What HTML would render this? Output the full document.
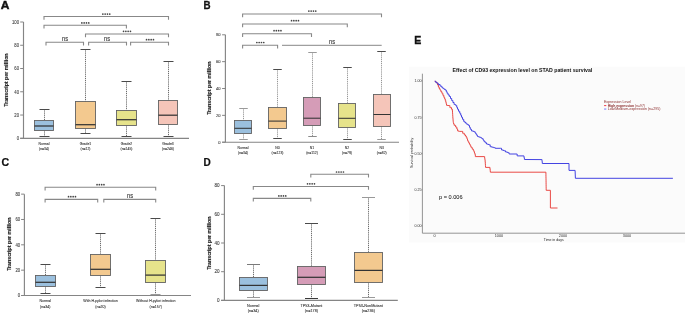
<!DOCTYPE html>
<html><head><meta charset="utf-8"><style>
html,body{margin:0;padding:0;background:#fff;}
svg{display:block;font-family:"Liberation Sans", sans-serif;will-change:transform;}
</style></head><body>
<svg width="685" height="314" viewBox="0 0 685 314">
<rect width="685" height="314" fill="#fff"/>
<text transform="translate(0.85,9.00) scale(1.05,1)" font-size="11.4" text-anchor="start" font-weight="bold" fill="#111" stroke="#111" stroke-width="0.45">A</text>
<line x1="23.5" y1="22.000000000000014" x2="23.5" y2="138.3" stroke="#858585" stroke-width="1.15" />
<line x1="20.2" y1="138.3" x2="23.5" y2="138.3" stroke="#858585" stroke-width="1" />
<text transform="translate(19.00,140.21) scale(0.8,1)" font-size="5.3" text-anchor="end" font-weight="normal" fill="#444" stroke="#444" stroke-width="0.1">0</text>
<line x1="20.2" y1="115.04" x2="23.5" y2="115.04" stroke="#858585" stroke-width="1" />
<text transform="translate(19.00,116.95) scale(0.8,1)" font-size="5.3" text-anchor="end" font-weight="normal" fill="#444" stroke="#444" stroke-width="0.1">20</text>
<line x1="20.2" y1="91.78" x2="23.5" y2="91.78" stroke="#858585" stroke-width="1" />
<text transform="translate(19.00,93.69) scale(0.8,1)" font-size="5.3" text-anchor="end" font-weight="normal" fill="#444" stroke="#444" stroke-width="0.1">40</text>
<line x1="20.2" y1="68.52000000000001" x2="23.5" y2="68.52000000000001" stroke="#858585" stroke-width="1" />
<text transform="translate(19.00,70.43) scale(0.8,1)" font-size="5.3" text-anchor="end" font-weight="normal" fill="#444" stroke="#444" stroke-width="0.1">60</text>
<line x1="20.2" y1="45.260000000000005" x2="23.5" y2="45.260000000000005" stroke="#858585" stroke-width="1" />
<text transform="translate(19.00,47.17) scale(0.8,1)" font-size="5.3" text-anchor="end" font-weight="normal" fill="#444" stroke="#444" stroke-width="0.1">80</text>
<line x1="20.2" y1="22.000000000000014" x2="23.5" y2="22.000000000000014" stroke="#858585" stroke-width="1" />
<text transform="translate(19.00,23.91) scale(0.8,1)" font-size="5.3" text-anchor="end" font-weight="normal" fill="#444" stroke="#444" stroke-width="0.1">100</text>
<line x1="20.2" y1="138.3" x2="189" y2="138.3" stroke="#858585" stroke-width="1.15" />
<text x="0" y="0" font-size="5.25" font-weight="bold" fill="#1a1a1a" stroke="#1a1a1a" stroke-width="0.12" text-anchor="middle" transform="translate(7.6,80.1) rotate(-90) scale(1,0.9)">Transcript per million</text>
<line x1="44.5" y1="109.5" x2="44.5" y2="120.5" stroke="#5a5a5a" stroke-width="0.9" stroke-dasharray="1.1 0.8"/>
<line x1="44.5" y1="130.5" x2="44.5" y2="136.5" stroke="#5a5a5a" stroke-width="0.9" stroke-dasharray="1.1 0.8"/>
<line x1="39.5" y1="109.5" x2="49.5" y2="109.5" stroke="#4a4a4a" stroke-width="1" />
<line x1="39.5" y1="136.5" x2="49.5" y2="136.5" stroke="#4a4a4a" stroke-width="1" />
<rect x="34.5" y="120.5" width="19.0" height="10.0" fill="#9bc0de" stroke="#636363" stroke-width="0.9"/>
<line x1="34.5" y1="126.0" x2="53.5" y2="126.0" stroke="#333333" stroke-width="1.25" />
<text transform="translate(44.00,144.98) scale(0.78,1)" font-size="4.4" text-anchor="middle" font-weight="normal" fill="#333" stroke="#333" stroke-width="0.1">Normal</text>
<text transform="translate(44.00,150.18) scale(0.78,1)" font-size="4.4" text-anchor="middle" font-weight="normal" fill="#333" stroke="#333" stroke-width="0.1">(n=34)</text>
<line x1="85.5" y1="49.5" x2="85.5" y2="101.5" stroke="#5a5a5a" stroke-width="0.9" stroke-dasharray="1.1 0.8"/>
<line x1="85.5" y1="128.5" x2="85.5" y2="133.5" stroke="#5a5a5a" stroke-width="0.9" stroke-dasharray="1.1 0.8"/>
<line x1="80.5" y1="49.5" x2="90.5" y2="49.5" stroke="#4a4a4a" stroke-width="1" />
<line x1="80.5" y1="133.5" x2="90.5" y2="133.5" stroke="#4a4a4a" stroke-width="1" />
<rect x="75.5" y="101.5" width="20.0" height="27.0" fill="#f3c98f" stroke="#636363" stroke-width="0.9"/>
<line x1="75.5" y1="124.7" x2="95.5" y2="124.7" stroke="#333333" stroke-width="1.25" />
<text transform="translate(85.50,144.98) scale(0.78,1)" font-size="4.4" text-anchor="middle" font-weight="normal" fill="#333" stroke="#333" stroke-width="0.1">Grade1</text>
<text transform="translate(85.50,150.18) scale(0.78,1)" font-size="4.4" text-anchor="middle" font-weight="normal" fill="#333" stroke="#333" stroke-width="0.1">(n=12)</text>
<line x1="126.5" y1="81.5" x2="126.5" y2="110.5" stroke="#5a5a5a" stroke-width="0.9" stroke-dasharray="1.1 0.8"/>
<line x1="126.5" y1="125.5" x2="126.5" y2="136.5" stroke="#5a5a5a" stroke-width="0.9" stroke-dasharray="1.1 0.8"/>
<line x1="121.5" y1="81.5" x2="131.5" y2="81.5" stroke="#4a4a4a" stroke-width="1" />
<line x1="121.5" y1="136.5" x2="131.5" y2="136.5" stroke="#4a4a4a" stroke-width="1" />
<rect x="116.5" y="110.5" width="20.0" height="15.0" fill="#e6e38b" stroke="#636363" stroke-width="0.9"/>
<line x1="116.5" y1="119.7" x2="136.5" y2="119.7" stroke="#333333" stroke-width="1.25" />
<text transform="translate(126.50,144.98) scale(0.78,1)" font-size="4.4" text-anchor="middle" font-weight="normal" fill="#333" stroke="#333" stroke-width="0.1">Grade2</text>
<text transform="translate(126.50,150.18) scale(0.78,1)" font-size="4.4" text-anchor="middle" font-weight="normal" fill="#333" stroke="#333" stroke-width="0.1">(n=145)</text>
<line x1="168.5" y1="61.5" x2="168.5" y2="100.5" stroke="#5a5a5a" stroke-width="0.9" stroke-dasharray="1.1 0.8"/>
<line x1="168.5" y1="124.5" x2="168.5" y2="136.5" stroke="#5a5a5a" stroke-width="0.9" stroke-dasharray="1.1 0.8"/>
<line x1="163.5" y1="61.5" x2="173.5" y2="61.5" stroke="#4a4a4a" stroke-width="1" />
<line x1="163.5" y1="136.5" x2="173.5" y2="136.5" stroke="#4a4a4a" stroke-width="1" />
<rect x="158.5" y="100.5" width="19.0" height="24.0" fill="#f5c5b9" stroke="#636363" stroke-width="0.9"/>
<line x1="158.5" y1="115.2" x2="177.5" y2="115.2" stroke="#333333" stroke-width="1.25" />
<text transform="translate(168.00,144.98) scale(0.78,1)" font-size="4.4" text-anchor="middle" font-weight="normal" fill="#333" stroke="#333" stroke-width="0.1">Grade3</text>
<text transform="translate(168.00,150.18) scale(0.78,1)" font-size="4.4" text-anchor="middle" font-weight="normal" fill="#333" stroke="#333" stroke-width="0.1">(n=246)</text>
<path d="M44 19.7V16.5H168.5V19.7" fill="none" stroke="#888888" stroke-width="1.1"/>
<circle cx="102.85" cy="14.1" r="0.85" fill="#444"/>
<circle cx="105.15" cy="14.1" r="0.85" fill="#444"/>
<circle cx="107.45" cy="14.1" r="0.85" fill="#444"/>
<circle cx="109.75" cy="14.1" r="0.85" fill="#444"/>
<path d="M44 28.4V25.2H126.4V28.4" fill="none" stroke="#888888" stroke-width="1.1"/>
<circle cx="81.85" cy="22.9" r="0.85" fill="#444"/>
<circle cx="84.15" cy="22.9" r="0.85" fill="#444"/>
<circle cx="86.45" cy="22.9" r="0.85" fill="#444"/>
<circle cx="88.75" cy="22.9" r="0.85" fill="#444"/>
<path d="M85.5 37.2V34.0H168.5V37.2" fill="none" stroke="#888888" stroke-width="1.1"/>
<circle cx="123.55" cy="31.3" r="0.85" fill="#444"/>
<circle cx="125.85" cy="31.3" r="0.85" fill="#444"/>
<circle cx="128.15" cy="31.3" r="0.85" fill="#444"/>
<circle cx="130.45" cy="31.3" r="0.85" fill="#444"/>
<path d="M46 45.5V42.3H83.5V45.5" fill="none" stroke="#888888" stroke-width="1.1"/>
<text transform="translate(65.10,40.90) scale(0.8,1)" font-size="7.2" text-anchor="middle" font-weight="normal" fill="#333" stroke="#333" stroke-width="0.12">ns</text>
<path d="M88.6 45.5V42.3H126.5V45.5" fill="none" stroke="#888888" stroke-width="1.1"/>
<text transform="translate(107.00,40.90) scale(0.8,1)" font-size="7.2" text-anchor="middle" font-weight="normal" fill="#333" stroke="#333" stroke-width="0.12">ns</text>
<path d="M130.6 45.5V42.3H168.5V45.5" fill="none" stroke="#888888" stroke-width="1.1"/>
<circle cx="146.55" cy="39.7" r="0.85" fill="#444"/>
<circle cx="148.85" cy="39.7" r="0.85" fill="#444"/>
<circle cx="151.15" cy="39.7" r="0.85" fill="#444"/>
<circle cx="153.45" cy="39.7" r="0.85" fill="#444"/>
<text transform="translate(203.40,8.70) scale(0.86,1)" font-size="11.4" text-anchor="start" font-weight="bold" fill="#111" stroke="#111" stroke-width="0.3">B</text>
<line x1="225.4" y1="34.79999999999998" x2="225.4" y2="142.2" stroke="#858585" stroke-width="1.15" />
<line x1="222.1" y1="142.2" x2="225.4" y2="142.2" stroke="#858585" stroke-width="1" />
<text transform="translate(220.60,143.75) scale(0.95,1)" font-size="4.3" text-anchor="end" font-weight="normal" fill="#444" stroke="#444" stroke-width="0.1">0</text>
<line x1="222.1" y1="115.35" x2="225.4" y2="115.35" stroke="#858585" stroke-width="1" />
<text transform="translate(220.60,116.90) scale(0.95,1)" font-size="4.3" text-anchor="end" font-weight="normal" fill="#444" stroke="#444" stroke-width="0.1">20</text>
<line x1="222.1" y1="88.49999999999999" x2="225.4" y2="88.49999999999999" stroke="#858585" stroke-width="1" />
<text transform="translate(220.60,90.05) scale(0.95,1)" font-size="4.3" text-anchor="end" font-weight="normal" fill="#444" stroke="#444" stroke-width="0.1">40</text>
<line x1="222.1" y1="61.64999999999999" x2="225.4" y2="61.64999999999999" stroke="#858585" stroke-width="1" />
<text transform="translate(220.60,63.20) scale(0.95,1)" font-size="4.3" text-anchor="end" font-weight="normal" fill="#444" stroke="#444" stroke-width="0.1">60</text>
<line x1="222.1" y1="34.79999999999998" x2="225.4" y2="34.79999999999998" stroke="#858585" stroke-width="1" />
<text transform="translate(220.60,36.35) scale(0.95,1)" font-size="4.3" text-anchor="end" font-weight="normal" fill="#444" stroke="#444" stroke-width="0.1">80</text>
<line x1="222.1" y1="142.2" x2="399" y2="142.2" stroke="#858585" stroke-width="1.15" />
<text x="0" y="0" font-size="5.25" font-weight="bold" fill="#1a1a1a" stroke="#1a1a1a" stroke-width="0.12" text-anchor="middle" transform="translate(211.3,88.2) rotate(-90) scale(1,0.9)">Transcript per million</text>
<line x1="243.5" y1="108.5" x2="243.5" y2="120.5" stroke="#8a8a8a" stroke-width="0.9" stroke-dasharray="1.1 0.8"/>
<line x1="243.5" y1="133.5" x2="243.5" y2="139.5" stroke="#8a8a8a" stroke-width="0.9" stroke-dasharray="1.1 0.8"/>
<line x1="239.25" y1="108.5" x2="247.75" y2="108.5" stroke="#9a9a9a" stroke-width="1" />
<line x1="239.25" y1="139.5" x2="247.75" y2="139.5" stroke="#9a9a9a" stroke-width="1" />
<rect x="234.5" y="120.5" width="17.0" height="13.0" fill="#9bc0de" stroke="#636363" stroke-width="0.9"/>
<line x1="234.5" y1="128.3" x2="251.5" y2="128.3" stroke="#333333" stroke-width="1.05" />
<text transform="translate(243.00,149.28) scale(0.78,1)" font-size="4.4" text-anchor="middle" font-weight="normal" fill="#333" stroke="#333" stroke-width="0.1">Normal</text>
<text transform="translate(243.00,154.48) scale(0.78,1)" font-size="4.4" text-anchor="middle" font-weight="normal" fill="#333" stroke="#333" stroke-width="0.1">(n=34)</text>
<line x1="277.5" y1="69.5" x2="277.5" y2="107.5" stroke="#8a8a8a" stroke-width="0.9" stroke-dasharray="1.1 0.8"/>
<line x1="277.5" y1="128.5" x2="277.5" y2="138.5" stroke="#8a8a8a" stroke-width="0.9" stroke-dasharray="1.1 0.8"/>
<line x1="273.25" y1="69.5" x2="281.75" y2="69.5" stroke="#4a4a4a" stroke-width="1" />
<line x1="273.25" y1="138.5" x2="281.75" y2="138.5" stroke="#4a4a4a" stroke-width="1" />
<rect x="268.5" y="107.5" width="18.0" height="21.0" fill="#f3c98f" stroke="#636363" stroke-width="0.9"/>
<line x1="268.5" y1="121.1" x2="286.5" y2="121.1" stroke="#333333" stroke-width="1.05" />
<text transform="translate(277.50,149.28) scale(0.78,1)" font-size="4.4" text-anchor="middle" font-weight="normal" fill="#333" stroke="#333" stroke-width="0.1">N0</text>
<text transform="translate(277.50,154.48) scale(0.78,1)" font-size="4.4" text-anchor="middle" font-weight="normal" fill="#333" stroke="#333" stroke-width="0.1">(n=123)</text>
<line x1="312.5" y1="52.5" x2="312.5" y2="97.5" stroke="#8a8a8a" stroke-width="0.9" stroke-dasharray="1.1 0.8"/>
<line x1="312.5" y1="125.5" x2="312.5" y2="136.5" stroke="#8a8a8a" stroke-width="0.9" stroke-dasharray="1.1 0.8"/>
<line x1="308.25" y1="52.5" x2="316.75" y2="52.5" stroke="#9a9a9a" stroke-width="1" />
<line x1="308.25" y1="136.5" x2="316.75" y2="136.5" stroke="#8a8a8a" stroke-width="1" />
<rect x="303.5" y="97.5" width="17.0" height="28.0" fill="#d59cb7" stroke="#636363" stroke-width="0.9"/>
<line x1="303.5" y1="118.2" x2="320.5" y2="118.2" stroke="#333333" stroke-width="1.05" />
<text transform="translate(312.00,149.28) scale(0.78,1)" font-size="4.4" text-anchor="middle" font-weight="normal" fill="#333" stroke="#333" stroke-width="0.1">N1</text>
<text transform="translate(312.00,154.48) scale(0.78,1)" font-size="4.4" text-anchor="middle" font-weight="normal" fill="#333" stroke="#333" stroke-width="0.1">(n=112)</text>
<line x1="347.5" y1="67.5" x2="347.5" y2="103.5" stroke="#8a8a8a" stroke-width="0.9" stroke-dasharray="1.1 0.8"/>
<line x1="347.5" y1="127.5" x2="347.5" y2="139.5" stroke="#8a8a8a" stroke-width="0.9" stroke-dasharray="1.1 0.8"/>
<line x1="343.25" y1="67.5" x2="351.75" y2="67.5" stroke="#4a4a4a" stroke-width="1" />
<line x1="343.25" y1="139.5" x2="351.75" y2="139.5" stroke="#4a4a4a" stroke-width="1" />
<rect x="338.5" y="103.5" width="17.0" height="24.0" fill="#e6e38b" stroke="#636363" stroke-width="0.9"/>
<line x1="338.5" y1="118.3" x2="355.5" y2="118.3" stroke="#333333" stroke-width="1.05" />
<text transform="translate(347.00,149.28) scale(0.78,1)" font-size="4.4" text-anchor="middle" font-weight="normal" fill="#333" stroke="#333" stroke-width="0.1">N2</text>
<text transform="translate(347.00,154.48) scale(0.78,1)" font-size="4.4" text-anchor="middle" font-weight="normal" fill="#333" stroke="#333" stroke-width="0.1">(n=79)</text>
<line x1="381.5" y1="51.5" x2="381.5" y2="94.5" stroke="#8a8a8a" stroke-width="0.9" stroke-dasharray="1.1 0.8"/>
<line x1="381.5" y1="126.5" x2="381.5" y2="139.5" stroke="#8a8a8a" stroke-width="0.9" stroke-dasharray="1.1 0.8"/>
<line x1="377.25" y1="51.5" x2="385.75" y2="51.5" stroke="#4a4a4a" stroke-width="1" />
<line x1="377.25" y1="139.5" x2="385.75" y2="139.5" stroke="#9a9a9a" stroke-width="1" />
<rect x="373.5" y="94.5" width="17.0" height="32.0" fill="#f5c5b9" stroke="#636363" stroke-width="0.9"/>
<line x1="373.5" y1="114.5" x2="390.5" y2="114.5" stroke="#333333" stroke-width="1.05" />
<text transform="translate(381.70,149.28) scale(0.78,1)" font-size="4.4" text-anchor="middle" font-weight="normal" fill="#333" stroke="#333" stroke-width="0.1">N3</text>
<text transform="translate(381.70,154.48) scale(0.78,1)" font-size="4.4" text-anchor="middle" font-weight="normal" fill="#333" stroke="#333" stroke-width="0.1">(n=82)</text>
<path d="M242.6 17.2V14.0H381.5V17.2" fill="none" stroke="#888888" stroke-width="1.1"/>
<circle cx="308.85" cy="11.1" r="0.85" fill="#444"/>
<circle cx="311.15" cy="11.1" r="0.85" fill="#444"/>
<circle cx="313.45" cy="11.1" r="0.85" fill="#444"/>
<circle cx="315.75" cy="11.1" r="0.85" fill="#444"/>
<path d="M242.6 27.2V24.0H347.3V27.2" fill="none" stroke="#888888" stroke-width="1.1"/>
<circle cx="291.55" cy="20.7" r="0.85" fill="#444"/>
<circle cx="293.85" cy="20.7" r="0.85" fill="#444"/>
<circle cx="296.15" cy="20.7" r="0.85" fill="#444"/>
<circle cx="298.45" cy="20.7" r="0.85" fill="#444"/>
<path d="M242.6 37.0V33.8H311.5V37.0" fill="none" stroke="#888888" stroke-width="1.1"/>
<circle cx="274.05" cy="30.7" r="0.85" fill="#444"/>
<circle cx="276.35" cy="30.7" r="0.85" fill="#444"/>
<circle cx="278.65" cy="30.7" r="0.85" fill="#444"/>
<circle cx="280.95" cy="30.7" r="0.85" fill="#444"/>
<path d="M242.6 48.5V45.3H277.6V48.5" fill="none" stroke="#888888" stroke-width="1.1"/>
<circle cx="256.85" cy="42.5" r="0.85" fill="#444"/>
<circle cx="259.15" cy="42.5" r="0.85" fill="#444"/>
<circle cx="261.45" cy="42.5" r="0.85" fill="#444"/>
<circle cx="263.75" cy="42.5" r="0.85" fill="#444"/>
<line x1="282" y1="45.3" x2="381.7" y2="45.3" stroke="#888888" stroke-width="1" />
<text transform="translate(332.00,44.30) scale(0.8,1)" font-size="7.2" text-anchor="middle" font-weight="normal" fill="#333" stroke="#333" stroke-width="0.12">ns</text>
<text transform="translate(1.40,166.00) scale(0.93,1)" font-size="11.4" text-anchor="start" font-weight="bold" fill="#111" stroke="#111" stroke-width="0.25">C</text>
<line x1="24.4" y1="194.14000000000001" x2="24.4" y2="295.5" stroke="#858585" stroke-width="1.15" />
<line x1="21.099999999999998" y1="295.5" x2="24.4" y2="295.5" stroke="#858585" stroke-width="1" />
<text transform="translate(20.10,297.30) scale(0.85,1)" font-size="5.0" text-anchor="end" font-weight="normal" fill="#444" stroke="#444" stroke-width="0.1">0</text>
<line x1="21.099999999999998" y1="270.16" x2="24.4" y2="270.16" stroke="#858585" stroke-width="1" />
<text transform="translate(20.10,271.96) scale(0.85,1)" font-size="5.0" text-anchor="end" font-weight="normal" fill="#444" stroke="#444" stroke-width="0.1">20</text>
<line x1="21.099999999999998" y1="244.82" x2="24.4" y2="244.82" stroke="#858585" stroke-width="1" />
<text transform="translate(20.10,246.62) scale(0.85,1)" font-size="5.0" text-anchor="end" font-weight="normal" fill="#444" stroke="#444" stroke-width="0.1">40</text>
<line x1="21.099999999999998" y1="219.48000000000002" x2="24.4" y2="219.48000000000002" stroke="#858585" stroke-width="1" />
<text transform="translate(20.10,221.28) scale(0.85,1)" font-size="5.0" text-anchor="end" font-weight="normal" fill="#444" stroke="#444" stroke-width="0.1">60</text>
<line x1="21.099999999999998" y1="194.14000000000001" x2="24.4" y2="194.14000000000001" stroke="#858585" stroke-width="1" />
<text transform="translate(20.10,195.94) scale(0.85,1)" font-size="5.0" text-anchor="end" font-weight="normal" fill="#444" stroke="#444" stroke-width="0.1">80</text>
<line x1="21.099999999999998" y1="295.5" x2="191" y2="295.5" stroke="#858585" stroke-width="1.15" />
<text x="0" y="0" font-size="5.25" font-weight="bold" fill="#1a1a1a" stroke="#1a1a1a" stroke-width="0.12" text-anchor="middle" transform="translate(10.6,244.2) rotate(-90) scale(1,0.9)">Transcript per million</text>
<line x1="45.5" y1="264.5" x2="45.5" y2="275.5" stroke="#5a5a5a" stroke-width="0.9" stroke-dasharray="1.1 0.8"/>
<line x1="45.5" y1="286.5" x2="45.5" y2="293.5" stroke="#5a5a5a" stroke-width="0.9" stroke-dasharray="1.1 0.8"/>
<line x1="40.5" y1="264.5" x2="50.5" y2="264.5" stroke="#4a4a4a" stroke-width="1" />
<line x1="40.5" y1="293.5" x2="50.5" y2="293.5" stroke="#4a4a4a" stroke-width="1" />
<rect x="35.5" y="275.5" width="20.0" height="11.0" fill="#9bc0de" stroke="#636363" stroke-width="0.9"/>
<line x1="35.5" y1="282.3" x2="55.5" y2="282.3" stroke="#333333" stroke-width="1.25" />
<text transform="translate(45.20,302.48) scale(0.81,1)" font-size="4.4" text-anchor="middle" font-weight="normal" fill="#333" stroke="#333" stroke-width="0.1">Normal</text>
<text transform="translate(45.20,307.78) scale(0.81,1)" font-size="4.4" text-anchor="middle" font-weight="normal" fill="#333" stroke="#333" stroke-width="0.1">(n=34)</text>
<line x1="100.5" y1="233.5" x2="100.5" y2="254.5" stroke="#5a5a5a" stroke-width="0.9" stroke-dasharray="1.1 0.8"/>
<line x1="100.5" y1="275.5" x2="100.5" y2="287.5" stroke="#5a5a5a" stroke-width="0.9" stroke-dasharray="1.1 0.8"/>
<line x1="95.5" y1="233.5" x2="105.5" y2="233.5" stroke="#4a4a4a" stroke-width="1" />
<line x1="95.5" y1="287.5" x2="105.5" y2="287.5" stroke="#4a4a4a" stroke-width="1" />
<rect x="90.5" y="254.5" width="20.0" height="21.0" fill="#f3c98f" stroke="#636363" stroke-width="0.9"/>
<line x1="90.5" y1="269.3" x2="110.5" y2="269.3" stroke="#333333" stroke-width="1.25" />
<text transform="translate(100.50,302.48) scale(0.81,1)" font-size="4.4" text-anchor="middle" font-weight="normal" fill="#333" stroke="#333" stroke-width="0.1">With H.pylori infection</text>
<text transform="translate(100.50,307.78) scale(0.81,1)" font-size="4.4" text-anchor="middle" font-weight="normal" fill="#333" stroke="#333" stroke-width="0.1">(n=20)</text>
<line x1="155.5" y1="218.5" x2="155.5" y2="260.5" stroke="#5a5a5a" stroke-width="0.9" stroke-dasharray="1.1 0.8"/>
<line x1="155.5" y1="282.5" x2="155.5" y2="294.5" stroke="#5a5a5a" stroke-width="0.9" stroke-dasharray="1.1 0.8"/>
<line x1="150.5" y1="218.5" x2="160.5" y2="218.5" stroke="#4a4a4a" stroke-width="1" />
<line x1="150.5" y1="294.5" x2="160.5" y2="294.5" stroke="#9a9a9a" stroke-width="1" />
<rect x="145.5" y="260.5" width="20.0" height="22.0" fill="#e6e38b" stroke="#636363" stroke-width="0.9"/>
<line x1="145.5" y1="275.1" x2="165.5" y2="275.1" stroke="#333333" stroke-width="1.25" />
<text transform="translate(155.80,302.48) scale(0.81,1)" font-size="4.4" text-anchor="middle" font-weight="normal" fill="#333" stroke="#333" stroke-width="0.1">Without H.pylori infection</text>
<text transform="translate(155.80,307.78) scale(0.81,1)" font-size="4.4" text-anchor="middle" font-weight="normal" fill="#333" stroke="#333" stroke-width="0.1">(n=157)</text>
<path d="M45.1 190.5V187.3H155.7V190.5" fill="none" stroke="#888888" stroke-width="1.1"/>
<circle cx="97.05" cy="184.7" r="0.85" fill="#444"/>
<circle cx="99.35" cy="184.7" r="0.85" fill="#444"/>
<circle cx="101.65" cy="184.7" r="0.85" fill="#444"/>
<circle cx="103.95" cy="184.7" r="0.85" fill="#444"/>
<path d="M45.1 202.6V199.4H97.7V202.6" fill="none" stroke="#888888" stroke-width="1.1"/>
<circle cx="68.55" cy="196.7" r="0.85" fill="#444"/>
<circle cx="70.85" cy="196.7" r="0.85" fill="#444"/>
<circle cx="73.15" cy="196.7" r="0.85" fill="#444"/>
<circle cx="75.45" cy="196.7" r="0.85" fill="#444"/>
<path d="M103.8 202.6V199.4H155.7V202.6" fill="none" stroke="#888888" stroke-width="1.1"/>
<text transform="translate(130.00,197.90) scale(0.8,1)" font-size="7.2" text-anchor="middle" font-weight="normal" fill="#333" stroke="#333" stroke-width="0.12">ns</text>
<text transform="translate(203.60,165.80) scale(0.88,1)" font-size="11.4" text-anchor="start" font-weight="bold" fill="#111" stroke="#111" stroke-width="0.25">D</text>
<line x1="224.4" y1="185.59999999999997" x2="224.4" y2="300.4" stroke="#858585" stroke-width="1.15" />
<line x1="221.1" y1="300.4" x2="224.4" y2="300.4" stroke="#858585" stroke-width="1" />
<text x="219.6" y="302.056" font-size="4.6" text-anchor="end" font-weight="normal" fill="#444" stroke="#444" stroke-width="0.1">0</text>
<line x1="221.1" y1="271.7" x2="224.4" y2="271.7" stroke="#858585" stroke-width="1" />
<text x="219.6" y="273.356" font-size="4.6" text-anchor="end" font-weight="normal" fill="#444" stroke="#444" stroke-width="0.1">20</text>
<line x1="221.1" y1="242.99999999999997" x2="224.4" y2="242.99999999999997" stroke="#858585" stroke-width="1" />
<text x="219.6" y="244.65599999999998" font-size="4.6" text-anchor="end" font-weight="normal" fill="#444" stroke="#444" stroke-width="0.1">40</text>
<line x1="221.1" y1="214.29999999999995" x2="224.4" y2="214.29999999999995" stroke="#858585" stroke-width="1" />
<text x="219.6" y="215.95599999999996" font-size="4.6" text-anchor="end" font-weight="normal" fill="#444" stroke="#444" stroke-width="0.1">60</text>
<line x1="221.1" y1="185.59999999999997" x2="224.4" y2="185.59999999999997" stroke="#858585" stroke-width="1" />
<text x="219.6" y="187.25599999999997" font-size="4.6" text-anchor="end" font-weight="normal" fill="#444" stroke="#444" stroke-width="0.1">80</text>
<line x1="221.1" y1="300.4" x2="397.8" y2="300.4" stroke="#858585" stroke-width="1.15" />
<text x="0" y="0" font-size="5.25" font-weight="bold" fill="#1a1a1a" stroke="#1a1a1a" stroke-width="0.12" text-anchor="middle" transform="translate(210.8,243.2) rotate(-90) scale(1,0.9)">Transcript per million</text>
<line x1="253.5" y1="264.5" x2="253.5" y2="277.5" stroke="#5a5a5a" stroke-width="0.9" stroke-dasharray="1.1 0.8"/>
<line x1="253.5" y1="290.5" x2="253.5" y2="297.5" stroke="#5a5a5a" stroke-width="0.9" stroke-dasharray="1.1 0.8"/>
<line x1="247.0" y1="264.5" x2="260.0" y2="264.5" stroke="#7a7a7a" stroke-width="1" />
<line x1="247.0" y1="297.5" x2="260.0" y2="297.5" stroke="#9a9a9a" stroke-width="1" />
<rect x="239.5" y="277.5" width="28.0" height="13.0" fill="#9bc0de" stroke="#636363" stroke-width="0.9"/>
<line x1="239.5" y1="285.4" x2="267.5" y2="285.4" stroke="#333333" stroke-width="1.25" />
<text transform="translate(253.20,306.88) scale(0.87,1)" font-size="4.4" text-anchor="middle" font-weight="normal" fill="#333" stroke="#333" stroke-width="0.1">Normal</text>
<text transform="translate(253.20,311.88) scale(0.87,1)" font-size="4.4" text-anchor="middle" font-weight="normal" fill="#333" stroke="#333" stroke-width="0.1">(n=34)</text>
<line x1="311.5" y1="223.5" x2="311.5" y2="266.5" stroke="#5a5a5a" stroke-width="0.9" stroke-dasharray="1.1 0.8"/>
<line x1="311.5" y1="284.5" x2="311.5" y2="298.5" stroke="#5a5a5a" stroke-width="0.9" stroke-dasharray="1.1 0.8"/>
<line x1="305.0" y1="223.5" x2="318.0" y2="223.5" stroke="#4a4a4a" stroke-width="1" />
<line x1="305.0" y1="298.5" x2="318.0" y2="298.5" stroke="#3a3a3a" stroke-width="1" />
<rect x="297.5" y="266.5" width="28.0" height="18.0" fill="#d59cb7" stroke="#636363" stroke-width="0.9"/>
<line x1="297.5" y1="277.3" x2="325.5" y2="277.3" stroke="#333333" stroke-width="1.25" />
<text transform="translate(311.40,306.88) scale(0.87,1)" font-size="4.4" text-anchor="middle" font-weight="normal" fill="#333" stroke="#333" stroke-width="0.1">TP53-Mutant</text>
<text transform="translate(311.40,311.88) scale(0.87,1)" font-size="4.4" text-anchor="middle" font-weight="normal" fill="#333" stroke="#333" stroke-width="0.1">(n=178)</text>
<line x1="368.5" y1="197.5" x2="368.5" y2="252.5" stroke="#5a5a5a" stroke-width="0.9" stroke-dasharray="1.1 0.8"/>
<line x1="368.5" y1="282.5" x2="368.5" y2="297.5" stroke="#5a5a5a" stroke-width="0.9" stroke-dasharray="1.1 0.8"/>
<line x1="362.0" y1="197.5" x2="375.0" y2="197.5" stroke="#999999" stroke-width="1" />
<line x1="362.0" y1="297.5" x2="375.0" y2="297.5" stroke="#9a9a9a" stroke-width="1" />
<rect x="354.5" y="252.5" width="28.0" height="30.0" fill="#f3c98f" stroke="#636363" stroke-width="0.9"/>
<line x1="354.5" y1="270.4" x2="382.5" y2="270.4" stroke="#333333" stroke-width="1.25" />
<text transform="translate(368.30,306.88) scale(0.87,1)" font-size="4.4" text-anchor="middle" font-weight="normal" fill="#333" stroke="#333" stroke-width="0.1">TP53-NonMutant</text>
<text transform="translate(368.30,311.88) scale(0.87,1)" font-size="4.4" text-anchor="middle" font-weight="normal" fill="#333" stroke="#333" stroke-width="0.1">(n=236)</text>
<path d="M310.8 177.5V174.3H368.5V177.5" fill="none" stroke="#888888" stroke-width="1.1"/>
<circle cx="336.55" cy="172" r="0.85" fill="#444"/>
<circle cx="338.85" cy="172" r="0.85" fill="#444"/>
<circle cx="341.15" cy="172" r="0.85" fill="#444"/>
<circle cx="343.45" cy="172" r="0.85" fill="#444"/>
<path d="M253.3 189.7V186.5H368.5V189.7" fill="none" stroke="#888888" stroke-width="1.1"/>
<circle cx="307.55" cy="183.8" r="0.85" fill="#444"/>
<circle cx="309.85" cy="183.8" r="0.85" fill="#444"/>
<circle cx="312.15" cy="183.8" r="0.85" fill="#444"/>
<circle cx="314.45" cy="183.8" r="0.85" fill="#444"/>
<path d="M253.3 201.6V198.4H310.8V201.6" fill="none" stroke="#888888" stroke-width="1.1"/>
<circle cx="278.85" cy="195.9" r="0.85" fill="#444"/>
<circle cx="281.15" cy="195.9" r="0.85" fill="#444"/>
<circle cx="283.45" cy="195.9" r="0.85" fill="#444"/>
<circle cx="285.75" cy="195.9" r="0.85" fill="#444"/>
<text transform="translate(414.30,44.30) scale(0.96,1)" font-size="11" text-anchor="start" font-weight="bold" fill="#111" stroke="#111" stroke-width="0.35">E</text>
<rect x="409" y="66.8" width="276" height="175.7" fill="#fbfbfb"/>
<text x="452.6" y="71.9" font-size="5.2" text-anchor="start" font-weight="bold" fill="#111" textLength="139.7" lengthAdjust="spacingAndGlyphs">Effect of CD93 expression level on STAD patient survival</text>
<line x1="422.4" y1="73.7" x2="422.4" y2="233.2" stroke="#888" stroke-width="0.9" />
<line x1="422.4" y1="233.2" x2="685" y2="233.2" stroke="#888" stroke-width="0.9" />
<text x="421.6" y="82.3" font-size="3.8" text-anchor="end" font-weight="normal" fill="#333" textLength="7.0" lengthAdjust="spacingAndGlyphs">1.00</text>
<line x1="421.2" y1="81.0" x2="422.4" y2="81.0" stroke="#888" stroke-width="0.6" />
<text x="421.6" y="118.5" font-size="3.8" text-anchor="end" font-weight="normal" fill="#333" textLength="7.0" lengthAdjust="spacingAndGlyphs">0.75</text>
<line x1="421.2" y1="117.2" x2="422.4" y2="117.2" stroke="#888" stroke-width="0.6" />
<text x="421.6" y="154.8" font-size="3.8" text-anchor="end" font-weight="normal" fill="#333" textLength="7.0" lengthAdjust="spacingAndGlyphs">0.50</text>
<line x1="421.2" y1="153.5" x2="422.4" y2="153.5" stroke="#888" stroke-width="0.6" />
<text x="421.6" y="191.0" font-size="3.8" text-anchor="end" font-weight="normal" fill="#333" textLength="7.0" lengthAdjust="spacingAndGlyphs">0.25</text>
<line x1="421.2" y1="189.7" x2="422.4" y2="189.7" stroke="#888" stroke-width="0.6" />
<text x="421.6" y="227.20000000000002" font-size="3.8" text-anchor="end" font-weight="normal" fill="#333" textLength="7.0" lengthAdjust="spacingAndGlyphs">0.00</text>
<line x1="421.2" y1="225.9" x2="422.4" y2="225.9" stroke="#888" stroke-width="0.6" />
<text x="434.6" y="236.9" font-size="3.8" text-anchor="middle" font-weight="normal" fill="#333" >0</text>
<text x="498.9" y="236.9" font-size="3.8" text-anchor="middle" font-weight="normal" fill="#333" >1000</text>
<text x="563" y="236.9" font-size="3.8" text-anchor="middle" font-weight="normal" fill="#333" >2000</text>
<text x="627" y="236.9" font-size="3.8" text-anchor="middle" font-weight="normal" fill="#333" >3000</text>
<text x="553.8" y="241" font-size="3.55" text-anchor="middle" font-weight="normal" fill="#222" >Time in days</text>
<text x="0" y="0" font-size="3.6" fill="#222" text-anchor="middle" transform="translate(413.2,152.9) rotate(-90)">Survival probability</text>
<text x="439.1" y="199.2" font-size="5.6" text-anchor="start" font-weight="normal" fill="#222" stroke="#222" stroke-width="0.05">p = 0.006</text>
<text x="603.9" y="102.7" font-size="3.4" text-anchor="start" font-weight="normal" fill="#8b2c2c" textLength="27.1" lengthAdjust="spacingAndGlyphs">Expression Level</text>
<rect x="604.1" y="105.2" width="2.2" height="0.9" fill="#e23"/>
<rect x="604.1" y="108.6" width="2.2" height="0.9" fill="#66f"/>
<text x="607.7" y="106.9" font-size="3.4" text-anchor="start" font-weight="normal" fill="#8b2c2c" textLength="37.3" lengthAdjust="spacingAndGlyphs"><tspan font-weight="bold">High expression</tspan> (n=97)</text>
<text x="607.7" y="110.4" font-size="3.4" text-anchor="start" font-weight="normal" fill="#8b2c2c" textLength="52.8" lengthAdjust="spacingAndGlyphs">Low/Medium-expression (n=295)</text>
<polyline points="434.8,81.1 435.4,81.1 435.4,82.05 436.6,82.05 436.6,83.0 437.2,83 437.6,83.0 437.6,85.0 438.4,85.0 438.4,87.0 438.8,87 439.2,87.0 439.2,88.55 440.0,88.55 440.0,90.1 440.4,90.1 440.9,90.1 440.9,91.7 441.9,91.7 441.9,93.3 442.4,93.3 442.88,93.3 442.88,95.3 443.83,95.3 443.83,97.3 444.3,97.3 444.62,97.3 444.62,98.9 445.28,98.9 445.28,100.5 445.6,100.5 445.78,100.5 445.78,102.1 446.15,102.1 446.15,103.7 446.52,103.7 446.52,105.3 446.7,105.3 449.1,105.6 449.9,105.6 449.9,107.6 450.7,107.6 451.5,107.6 451.5,109.2 452.3,109.2 452.36,109.2 452.36,111.0 452.49,111.0 452.49,112.8 452.61,112.8 452.61,114.6 452.74,114.6 452.74,116.4 452.8,116.4 452.87,116.4 452.87,118.1 453.0,118.1 453.0,119.8 453.13,119.8 453.13,121.5 453.2,121.5 453.3,121.5 453.3,122.65 453.5,122.65 453.5,123.8 453.6,123.8 454.2,123.8 454.2,125.4 454.8,125.4 455.6,125.4 455.6,127.0 456.4,127 456.8,127.0 456.8,128.95 457.6,128.95 457.6,130.9 458,130.9 458.8,130.9 458.8,131.4 459.6,131.4 461.9,131.4 462.7,131.4 462.7,133.3 463.5,133.3 464.3,133.3 464.3,134.9 465.1,134.9 465.5,134.9 465.5,136.1 466.3,136.1 466.3,137.3 466.7,137.3 466.98,137.3 466.98,138.9 467.52,138.9 467.52,140.5 467.8,140.5 468.12,140.5 468.12,141.7 468.78,141.7 468.78,142.9 469.1,142.9 469.43,142.9 469.43,144.1 470.07,144.1 470.07,145.3 470.4,145.3 470.67,145.3 470.67,146.45 471.23,146.45 471.23,147.6 471.5,147.6 472.3,147.6 472.3,149.2 473.1,149.2 473.38,149.2 473.38,150.4 473.92,150.4 473.92,151.6 474.2,151.6 474.45,151.6 474.45,153.05 474.95,153.05 474.95,154.5 475.2,154.5 475.35,154.5 475.35,156.6 475.5,156.6 484.5,156.6 484.65,156.6 484.65,158.4 484.95,158.4 484.95,160.2 485.1,160.2 485.16,160.2 485.16,162.0 485.29,162.0 485.29,163.8 485.41,163.8 485.41,165.6 485.54,165.6 485.54,167.4 485.6,167.4 489.9,167.4 489.98,167.4 489.98,169.0 490.15,169.0 490.15,170.6 490.32,170.6 490.32,172.2 490.4,172.2 545.9,172.2 545.92,172.2 545.92,174.21 545.95,174.21 545.95,176.22 545.98,176.22 545.98,178.23 546.02,178.23 546.02,180.24 546.05,180.24 546.05,182.26 546.08,182.26 546.08,184.27 546.12,184.27 546.12,186.28 546.15,186.28 546.15,188.29 546.18,188.29 546.18,190.3 546.2,190.3 550.4,190.3 550.4,208 557.5,208" fill="none" stroke="#e8403c" stroke-width="0.95" stroke-linejoin="miter"/>
<polyline points="434.8,81.1 435.4,81.1 435.4,82.05 436.6,82.05 436.6,83.0 437.2,83 438.17,83.0 438.17,84.55 440.12,84.55 440.12,86.1 441.1,86.1 441.7,86.1 441.7,87.3 442.9,87.3 442.9,88.5 443.5,88.5 444.1,88.5 444.1,89.3 445.3,89.3 445.3,90.1 445.9,90.1 446.3,90.1 446.3,91.7 447.1,91.7 447.1,93.3 447.5,93.3 448.1,93.3 448.1,94.9 449.3,94.9 449.3,96.5 449.9,96.5 450.5,96.5 450.5,98.5 451.7,98.5 451.7,100.5 452.3,100.5 452.9,100.5 452.9,102.5 454.1,102.5 454.1,104.5 454.7,104.5 455.5,104.5 455.5,105.3 456.3,105.3 456.7,105.3 456.7,107.25 457.5,107.25 457.5,109.2 457.9,109.2 458.5,109.2 458.5,111.2 459.7,111.2 459.7,113.2 460.3,113.2 460.7,113.2 460.7,115.2 461.5,115.2 461.5,117.2 461.9,117.2 462.5,117.2 462.5,119.3 463.7,119.3 463.7,121.4 464.3,121.4 464.9,121.4 464.9,122.6 466.1,122.6 466.1,123.8 466.7,123.8 467.3,123.8 467.3,124.6 468.5,124.6 468.5,125.4 469.1,125.4 469.5,125.4 469.5,127.35 470.3,127.35 470.3,129.3 470.7,129.3 471.5,129.3 471.5,130.9 472.3,130.9 472.9,130.9 472.9,131.3 474.1,131.3 474.1,131.7 474.7,131.7 475.1,131.7 475.1,132.9 475.9,132.9 475.9,134.1 476.3,134.1 476.7,134.1 476.7,135.3 477.5,135.3 477.5,136.5 477.9,136.5 478.5,136.5 478.5,136.9 479.7,136.9 479.7,137.3 480.3,137.3 480.88,137.3 480.88,137.95 482.03,137.95 482.03,138.6 482.6,138.6 483.08,138.6 483.08,140.05 484.02,140.05 484.02,141.5 484.5,141.5 485.18,141.5 485.18,142.75 486.52,142.75 486.52,144.0 487.2,144 487.8,144.0 487.8,144.4 489.0,144.4 489.0,144.8 489.6,144.8 490.2,144.8 490.2,146.7 490.8,146.7 491.68,146.7 491.68,147.15 493.43,147.15 493.43,147.6 494.3,147.6 495.1,147.6 495.1,148.3 495.9,148.3 500.7,148.3 501.5,148.3 501.5,149.9 502.3,149.9 502.9,149.9 502.9,150.35 504.1,150.35 504.1,150.8 504.7,150.8 505.5,150.8 505.5,151.9 506.3,151.9 506.9,151.9 506.9,152.3 508.1,152.3 508.1,152.7 508.7,152.7 509.1,152.7 509.1,154.0 509.5,154 516.9,154 517.15,154.0 517.15,155.9 517.4,155.9 523.8,155.9 524.0,155.9 524.0,157.7 524.4,157.7 524.4,159.5 524.6,159.5 541.9,159.6 542.02,159.6 542.02,161.55 542.27,161.55 542.27,163.5 542.4,163.5 569,163.5 569,170.4 575.1,170.4 575.4,178.3 672.9,178.3" fill="none" stroke="#3a3ae0" stroke-width="0.95" stroke-linejoin="miter"/>
</svg>
</body></html>
